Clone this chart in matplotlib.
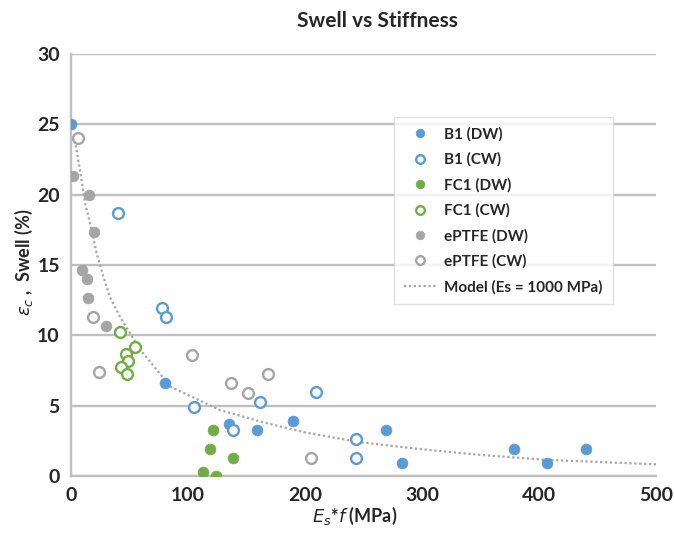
import matplotlib
matplotlib.use("Agg")
import matplotlib.pyplot as plt
from matplotlib.lines import Line2D

# ---- data ----
b1_dw_x = [0, 80.3, 135.3, 159.2, 190, 269, 282.6, 378.6, 406.6, 440]
b1_dw_y = [25.0, 6.6, 3.67, 3.27, 3.93, 3.27, 0.95, 1.94, 0.95, 1.94]

b1_cw_x = [39.9, 78, 81.2, 105.1, 138.2, 161.5, 209.4, 243.6, 243.6]
b1_cw_y = [18.67, 11.96, 11.32, 4.93, 3.27, 5.28, 5.95, 2.6, 1.26]

fc1_dw_x = [121.6, 118.8, 138.2, 113, 123.6]
fc1_dw_y = [3.27, 1.9, 1.26, 0.28, 0.0]

fc1_cw_x = [41.9, 54.7, 47, 48.4, 42.7, 47.6]
fc1_cw_y = [10.26, 9.14, 8.65, 8.17, 7.77, 7.25]

eptfe_dw_x = [2, 15.4, 19.9, 9.7, 13.4, 14.8, 29.9]
eptfe_dw_y = [21.35, 19.97, 17.32, 14.64, 13.98, 12.63, 10.68]

eptfe_cw_x = [6.3, 18.5, 24.2, 103.1, 136.8, 151, 168.6, 205]
eptfe_cw_y = [24.05, 11.32, 7.37, 8.6, 6.59, 5.88, 7.25, 1.26]

model_x = [2.6, 7.7, 12, 17.7, 22, 27.6, 33.3, 42, 59, 85, 127, 165, 200,
           247, 300, 350, 407, 450, 500]
model_y = [24.2, 21.75, 19.4, 17.5, 15.8, 14.2, 12.7, 11.3, 9.0, 6.35, 4.7,
           3.8, 3.1, 2.4, 1.9, 1.5, 1.14, 1.0, 0.83]

x_ticks = [0, 100, 200, 300, 400, 500]
y_ticks = [0, 5, 10, 15, 20, 25, 30]

BLUE = "#5b9bd5"
GREEN = "#70ad47"
GRAY = "#a5a5a5"
GRID = "#bfbfbf"
TXT = "#262626"

plt.rcParams['font.family'] = ['Lato', 'DejaVu Sans']
plt.rcParams['mathtext.fontset'] = 'dejavusans'

fig = plt.figure(figsize=(6.74, 5.46), dpi=100)
ax = fig.add_axes([71/674, 70/546, 585/674, 422/546])

ms = 7.8
ew = 1.7
ax.plot(model_x, model_y, linestyle=(0, (1, 1.2)), color=GRAY, lw=1.6, zorder=2)

def filled(x, y, c, label):
    ax.plot(x, y, 'o', ms=ms, color=c, mec=c, mew=0.5, zorder=3, label=label)

def hollow(x, y, c, label):
    ax.plot(x, y, 'o', ms=ms, mfc='white', mec=c, mew=ew, zorder=3, label=label)

filled(b1_dw_x, b1_dw_y, BLUE, "B1 (DW)")
hollow(b1_cw_x, b1_cw_y, BLUE, "B1 (CW)")
filled(fc1_dw_x, fc1_dw_y, GREEN, "FC1 (DW)")
hollow(fc1_cw_x, fc1_cw_y, GREEN, "FC1 (CW)")
filled(eptfe_dw_x, eptfe_dw_y, GRAY, "ePTFE (DW)")
hollow(eptfe_cw_x, eptfe_cw_y, GRAY, "ePTFE (CW)")

ax.set_xlim(0, 500)
ax.set_ylim(0, 30)
ax.set_xticks(x_ticks)
ax.set_yticks(y_ticks)
ax.yaxis.grid(True, color=GRID, lw=1.7)
ax.set_axisbelow(True)
for s in ['top', 'right']:
    ax.spines[s].set_visible(False)
for s in ['left', 'bottom']:
    ax.spines[s].set_color(GRID)
    ax.spines[s].set_linewidth(1.7)
ax.tick_params(length=0, pad=8, labelsize=14, labelcolor=TXT)
for lab in ax.get_xticklabels() + ax.get_yticklabels():
    lab.set_fontweight('bold')

fig.text(377/674, 1 - 21/546, "Swell vs Stiffness", ha='center', va='center',
         fontsize=15, fontweight='bold', color=TXT)
fig.text(355/674, 1 - 516/546, r"$E_s$*$f$ (MPa)", ha='center', va='center',
         fontsize=13, fontweight='bold', color=TXT)
fig.text(24/674, 1 - 262/546, r"$\varepsilon_c$ ,  Swell (%)", ha='center', va='center',
         rotation=90, fontsize=13, fontweight='bold', color=TXT)

handles, labels = ax.get_legend_handles_labels()
handles.append(Line2D([], [], linestyle=(0, (1, 1.2)), color=GRAY, lw=1.6))
labels.append("Model (Es = 1000 MPa)")
leg = ax.legend(handles, labels, loc='upper left',
                bbox_to_anchor=((394-71)/585, (476-117)/422),
                frameon=True, fancybox=False, edgecolor='#d9d9d9',
                prop={'weight': 'bold', 'size': 11}, labelspacing=0.72,
                handlelength=2.1, handletextpad=0.55, borderpad=0.65,
                borderaxespad=0, markerscale=0.8)
for t in leg.get_texts():
    t.set_color(TXT)
leg.get_frame().set_linewidth(1.0)

fig.savefig("out.png", dpi=100)
